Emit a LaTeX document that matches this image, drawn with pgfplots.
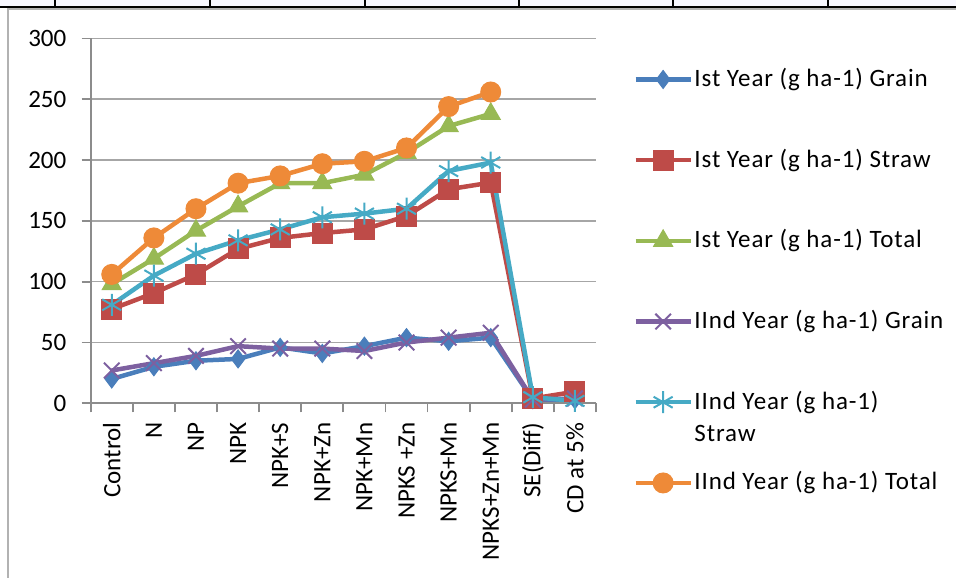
\documentclass[border=0pt]{standalone}
\usepackage{fontspec}
\setmainfont{Carlito}
\newfontfamily\legfont[LetterSpace=3.5]{Carlito}
\usepackage{pgfplots}
\pgfplotsset{compat=1.18}
\definecolor{cblue}{HTML}{4A7EBB}
\definecolor{cred}{HTML}{BE4B48}
\definecolor{cgreen}{HTML}{98B954}
\definecolor{cpurple}{HTML}{7D60A0}
\definecolor{caqua}{HTML}{46AAC5}
\definecolor{corange}{HTML}{EE8A38}
\definecolor{axisgray}{HTML}{8C8C8C}
\definecolor{gridgray}{HTML}{A6A6A6}
\begin{document}
\begin{tikzpicture}[font=\fontsize{12.5bp}{16bp}\selectfont]
\path[use as bounding box] (0,0) rectangle (478bp,289bp);
\fill[blue!3] (0,285.5bp) rectangle (478bp,289bp);
\draw[black, line width=1bp] (0,285.5bp) -- (478bp,285.5bp);
\foreach \x in {27.5,105,182.5,259.5,336.5,414}{\draw[black,line width=0.6bp] (\x bp,285.5bp) -- (\x bp,289bp);}
\draw[gray!60, line width=1.2bp] (4bp,0) -- (4bp,284.5bp) -- (478bp,284.5bp);
\begin{axis}[
 scale only axis, width=252.65bp, height=182.4bp,
 at={(45.35bp,87.35bp)}, anchor=south west,
 xmin=-0.5, xmax=11.5, ymin=0, ymax=300,
 axis lines*=left,
 axis line style={draw=axisgray, line width=0.9bp},
 ytick={0,50,...,300},
 ymajorgrids, major grid style={draw=gridgray, line width=0.8bp},
 tick align=outside, major tick length=4.5bp,
 tick style={draw=axisgray, line width=0.9bp},
 xtick={-0.5,0.5,...,11.5}, xticklabels={},
 extra x ticks={0,1,2,3,4,5,6,7,8,9,10,11},
 extra x tick labels={Control,N,NP,NPK,NPK+S,NPK+Zn,NPK+Mn,NPKS +Zn,NPKS+Mn,NPKS+Zn+Mn,SE(Diff),CD at 5\%},
 extra x tick style={major tick length=0pt, xticklabel style={rotate=90, anchor=east, inner sep=0pt}},
 yticklabel style={inner sep=0pt},
 yticklabel shift=7.5bp,
 xticklabel shift=9.5bp,
 /pgf/number format/assume math mode=true,
 legend style={at={(1.0732,0.9245)}, anchor=north west, draw=none, fill=none, inner sep=0pt,
   row sep=27.35bp, column sep=0.8bp, font=\legfont\fontsize{12.5bp}{16bp}\selectfont,
   nodes={inner sep=0pt, text height=10bp, text depth=3bp}},
 legend cell align=left,
 legend image code/.code={\draw[mark repeat=2, mark phase=2] plot coordinates {(0bp,0bp)(13.75bp,0bp)(27.5bp,0bp)};},
 every axis plot/.append style={line width=2.25bp},
]
\addplot[cblue, mark=diamond*, mark size=4.5bp, mark options={solid, fill=cblue, line width=0.5bp}]
 coordinates {(0,20)(1,30)(2,35)(3,36.5)(4,46)(5,41)(6,47)(7,54)(8,51)(9,54)(10,3)(11,3)};
\addlegendentry{Ist Year (g ha-1) Grain}
\addplot[cred, mark=square*, mark size=5bp, mark options={solid, fill=cred, line width=0.5bp}]
 coordinates {(0,77.5)(1,90.6)(2,106)(3,127)(4,136)(5,140)(6,143)(7,154)(8,176)(9,181.5)(10,4)(11,9.5)};
\addlegendentry{Ist Year (g ha-1) Straw}
\addplot[cgreen, mark=triangle*, mark size=5.5bp, mark options={solid, fill=cgreen, line width=0.5bp}]
 coordinates {(0,98)(1,119)(2,142)(3,162)(4,181)(5,181)(6,188)(7,206)(8,228)(9,238)};
\addlegendentry{Ist Year (g ha-1) Total}
\addplot[cpurple, mark=x, mark size=5.5bp, mark options={solid, line width=1bp}]
 coordinates {(0,27)(1,33)(2,39)(3,47)(4,45)(5,45)(6,43)(7,50)(8,54)(9,58)(10,3)(11,4)};
\addlegendentry{IInd Year (g ha-1) Grain}
\addplot[caqua, mark=asterisk, mark size=5.5bp, mark options={solid, line width=1bp}]
 coordinates {(0,81)(1,105)(2,123)(3,134)(4,143)(5,153)(6,156)(7,160)(8,191)(9,198)(10,5)(11,2)};
\addlegendentry{\smash{\begin{tabular}[t]{@{}l@{}}IInd Year (g ha-1)\\Straw\end{tabular}}}
\addplot[corange, mark=*, mark size=5bp, mark options={solid, fill=corange, line width=0.5bp}]
 coordinates {(0,106)(1,136)(2,160)(3,181)(4,187)(5,197)(6,199)(7,210)(8,244)(9,256)};
\addlegendentry{IInd Year (g ha-1) Total}
\end{axis}
\end{tikzpicture}
\end{document}
